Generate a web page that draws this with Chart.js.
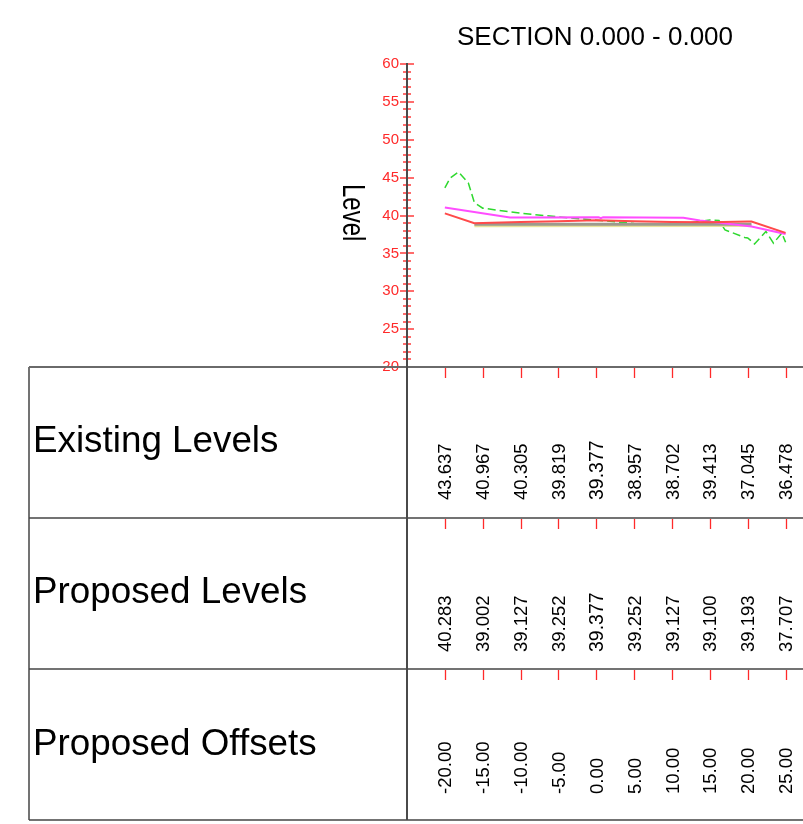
<!DOCTYPE html>
<html>
<head>
<meta charset="utf-8">
<title>Section 0.000 - 0.000</title>
<script src="https://cdn.jsdelivr.net/npm/chart.js@4.4.1/dist/chart.umd.min.js"></script>
<style>
  body { margin: 0; background: #fff; }
  canvas { display: block; }
</style>
</head>
<body>
<canvas id="section" width="803" height="824"></canvas>
<script>
const sectionTitle = "SECTION 0.000 - 0.000";
const axisTitle = "Level";
const rowLabels = ["Existing Levels", "Proposed Levels", "Proposed Offsets"];

// values printed in the table, one column per offset
const tableOffsets = [-20, -15, -10, -5, 0, 5, 10, 15, 20, 25];
const existingLevels = [43.637, 40.967, 40.305, 39.819, 39.377, 38.957, 38.702, 39.413, 37.045, 36.478];
const proposedLevels = [40.283, 39.002, 39.127, 39.252, 39.377, 39.252, 39.127, 39.100, 39.193, 37.707];

// extra ground breaks between the table columns
const groundBreakOffsets = [-19.3, -18.2, -16.9, -16.1, 16.2, 17, 19.6, 20.9, 22.4, 23.4, 24.5];
const groundBreakLevels = [44.95, 45.75, 44.3, 41.7, 39.35, 38.1, 37.1, 36.25, 37.9, 36.35, 37.67];

// proposed line breaks at the formation edges
const proposedBreakOffsets = [-16.1, 20.5];
const proposedBreakLevels = [38.98, 39.2];

// second design string (magenta)
const designOffsets = [-20, -11.4, 0.3, 0.6, 0.9, 11.5, 13.7, 20.5, 25];
const designLevels = [41.06, 39.74, 39.76, 39.64, 39.76, 39.7, 39.34, 38.55, 37.55];

// formation layer
const formationOffsets = [-16.1, 20.5];
const formationTop = [38.84, 38.86];
const formationBase = [38.62, 38.64];

const FONT = "'Liberation Sans', Arial, Helvetica, sans-serif";

function toPoints(xs, ys) {
  return xs.map((x, i) => ({ x, y: ys[i] }));
}

function merged(xsA, ysA, xsB, ysB) {
  return toPoints(xsA, ysA).concat(toPoints(xsB, ysB)).sort((a, b) => a.x - b.x);
}

function line(ctx, x1, y1, x2, y2) {
  ctx.beginPath();
  ctx.moveTo(x1, y1);
  ctx.lineTo(x2, y2);
  ctx.stroke();
}

// axis ticks, titles and the data table underneath the plot
const sectionFrame = {
  id: 'sectionFrame',
  afterDraw(chart) {
    const { ctx, chartArea } = chart;
    const xs = chart.scales.x;
    const ys = chart.scales.y;
    const left = chartArea.left;
    const rowTops = [367, 518, 669];
    const tableBottom = 820;
    const tableLeft = 29;
    const right = chart.width;

    ctx.save();

    // level ticks: majors every 5, minors every 1
    ctx.strokeStyle = '#ff3b3b';
    ctx.lineWidth = 1.5;
    for (let v = ys.min; v <= ys.max; v++) {
      const py = Math.round(ys.getPixelForValue(v));
      const half = v % 5 === 0 ? 7 : 4;
      line(ctx, left - half, py, left + half, py);
    }

    // table frame
    ctx.strokeStyle = '#444';
    ctx.lineWidth = 1.5;
    line(ctx, tableLeft, rowTops[0], tableLeft, tableBottom);
    line(ctx, tableLeft, tableBottom, right, tableBottom);
    line(ctx, tableLeft, rowTops[1], right, rowTops[1]);
    line(ctx, tableLeft, rowTops[2], right, rowTops[2]);
    ctx.strokeStyle = '#6a6a6a';
    ctx.lineWidth = 2;
    line(ctx, tableLeft, rowTops[0], right, rowTops[0]);

    // red ticks at the top of each row
    ctx.strokeStyle = '#ff2a2a';
    ctx.lineWidth = 1.3;
    rowTops.forEach((top, r) => {
      tableOffsets.forEach(o => {
        const px = Math.round(xs.getPixelForValue(o)) + 0.5;
        line(ctx, px, top + 1, px, top + 11);
      });
      if (r < 2) line(ctx, left, top + 1, left, top + 11);
    });

    // vertical axis running down through the table
    ctx.strokeStyle = '#4a4a4a';
    ctx.lineWidth = 2;
    line(ctx, left, chartArea.top - 1, left, tableBottom);

    // row captions
    ctx.fillStyle = '#000';
    ctx.font = `36.8px ${FONT}`;
    ctx.textAlign = 'left';
    ctx.textBaseline = 'alphabetic';
    const captionBase = [452, 603, 755];
    rowLabels.forEach((t, i) => ctx.fillText(t, 33, captionBase[i]));

    // rotated column values
    const rows = [
      { vals: existingLevels.map(v => v.toFixed(3)), bottom: 500, big: true },
      { vals: proposedLevels.map(v => v.toFixed(3)), bottom: 652, big: true },
      { vals: tableOffsets.map(v => v.toFixed(2)), bottom: 794, big: false }
    ];
    rows.forEach(row => {
      row.vals.forEach((txt, i) => {
        const size = row.big && tableOffsets[i] === 0 ? 19.5 : 18.5;
        const px = xs.getPixelForValue(tableOffsets[i]);
        ctx.save();
        ctx.translate(px, row.bottom);
        ctx.rotate(-Math.PI / 2);
        ctx.font = `${size}px ${FONT}`;
        ctx.fillText(txt, 0, size * 0.358);
        ctx.restore();
      });
    });

    // title over the centre line
    ctx.font = `26px ${FONT}`;
    ctx.textAlign = 'center';
    ctx.fillText(sectionTitle, 595, 45);

    // axis caption, reads top to bottom
    ctx.save();
    ctx.translate(343, 184);
    ctx.rotate(Math.PI / 2);
    ctx.scale(1, 1.27);
    ctx.font = `24px ${FONT}`;
    ctx.textAlign = 'left';
    ctx.fillText(axisTitle, 0, 0);
    ctx.restore();

    ctx.restore();
  }
};

new Chart(document.getElementById('section'), {
  type: 'line',
  data: {
    datasets: [
      {
        label: 'Design',
        data: toPoints(designOffsets, designLevels),
        borderColor: '#ff4dff',
        borderWidth: 2,
        order: 2
      },
      {
        label: 'Proposed',
        data: merged(tableOffsets, proposedLevels, proposedBreakOffsets, proposedBreakLevels),
        borderColor: '#ff4a4a',
        borderWidth: 2,
        order: 1
      },
      {
        label: 'Formation',
        data: toPoints(formationOffsets, formationTop),
        borderColor: '#9c9a8e',
        borderWidth: 3,
        order: 4
      },
      {
        label: 'Formation base',
        data: toPoints(formationOffsets, formationBase),
        borderColor: '#e8e49c',
        borderWidth: 2.5,
        order: 5
      },
      {
        label: 'Existing',
        data: merged(tableOffsets, existingLevels, groundBreakOffsets, groundBreakLevels),
        borderColor: '#2fd82f',
        borderWidth: 1.5,
        borderDash: [8, 4],
        order: 6
      }
    ]
  },
  options: {
    responsive: false,
    animation: false,
    devicePixelRatio: 1,
    layout: { padding: { left: 367, top: 64, right: 0, bottom: 457 } },
    elements: { point: { radius: 0 }, line: { tension: 0 } },
    plugins: {
      legend: { display: false },
      tooltip: { enabled: false }
    },
    scales: {
      x: { type: 'linear', min: -25, max: 27.3, display: false },
      y: {
        min: 20,
        max: 60,
        afterFit(scale) { scale.width = 40; },
        grid: { display: false, drawTicks: false },
        border: { display: false },
        ticks: {
          stepSize: 1,
          autoSkip: false,
          padding: 8,
          color: '#ff2a2a',
          font: { family: FONT, size: 15 },
          callback: v => (v % 5 === 0 ? v : '')
        }
      }
    }
  },
  plugins: [sectionFrame]
});
</script>
</body>
</html>
